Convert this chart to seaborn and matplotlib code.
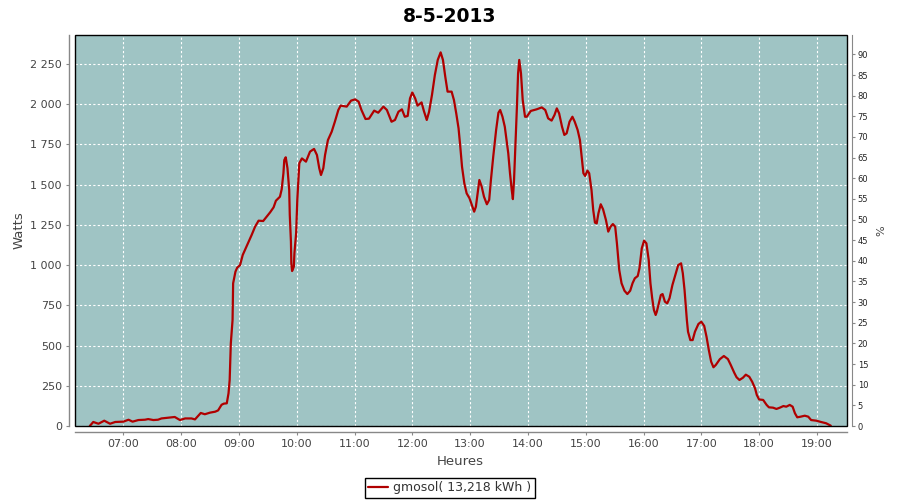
import matplotlib
matplotlib.use("Agg")
import matplotlib.pyplot as plt
from matplotlib.ticker import FuncFormatter, FixedLocator
from matplotlib.patches import Rectangle
import seaborn as sns
import pandas as pd

# ---- data (time in decimal hours, power in W) ----
hours = [6.42, 6.48, 6.57, 6.67, 6.77, 6.86, 7.00, 7.09, 7.16, 7.26, 7.375, 7.43, 7.52, 7.60, 7.66,
         7.89, 7.98, 8.07, 8.18, 8.24, 8.34, 8.41, 8.50, 8.59, 8.64, 8.70, 8.74, 8.79, 8.82, 8.84,
         8.86, 8.89, 8.90, 8.94, 8.97, 9.02, 9.066, 9.13, 9.22, 9.28, 9.34, 9.42, 9.48, 9.54, 9.60,
         9.64, 9.71, 9.74, 9.77, 9.785, 9.81, 9.84, 9.87, 9.88, 9.90, 9.907, 9.92, 9.95, 9.96, 9.99,
         10.01, 10.03, 10.045, 10.09, 10.16, 10.23, 10.30, 10.35, 10.39, 10.42, 10.46, 10.49, 10.54,
         10.605, 10.66, 10.72, 10.76, 10.865, 10.94, 11.01, 11.07, 11.12, 11.19, 11.25, 11.34, 11.41,
         11.50, 11.56, 11.64, 11.70, 11.76, 11.82, 11.87, 11.92, 11.96, 12.00, 12.05, 12.09, 12.16,
         12.20, 12.25, 12.29, 12.34, 12.39, 12.44, 12.49, 12.53, 12.57, 12.61, 12.68, 12.72, 12.76,
         12.80, 12.83, 12.86, 12.90, 12.94, 12.99, 13.03, 13.07, 13.10, 13.13, 13.16, 13.20, 13.24,
         13.29, 13.33, 13.36, 13.40, 13.45, 13.49, 13.52, 13.56, 13.60, 13.63, 13.66, 13.69, 13.72,
         13.74, 13.76, 13.79, 13.81, 13.83, 13.85, 13.88, 13.91, 13.95, 13.98, 14.05, 14.15, 14.24,
         14.30, 14.35, 14.41, 14.46, 14.50, 14.54, 14.59, 14.63, 14.67, 14.72, 14.77, 14.81, 14.86,
         14.90, 14.93, 14.96, 14.99, 15.03, 15.06, 15.10, 15.13, 15.16, 15.19, 15.22, 15.26, 15.30,
         15.35, 15.39, 15.43, 15.47, 15.51, 15.54, 15.58, 15.62, 15.67, 15.72, 15.77, 15.81, 15.85,
         15.90, 15.93, 15.97, 16.01, 16.05, 16.09, 16.12, 16.15, 16.18, 16.21, 16.23, 16.30, 16.33,
         16.37, 16.41, 16.45, 16.50, 16.56, 16.60, 16.65, 16.68, 16.71, 16.75, 16.77, 16.81, 16.85,
         16.89, 16.95, 17.00, 17.05, 17.09, 17.13, 17.17, 17.21, 17.25, 17.32, 17.39, 17.46, 17.51,
         17.57, 17.61, 17.66, 17.72, 17.77, 17.83, 17.88, 17.93, 17.96, 18.00, 18.07, 18.13, 18.17,
         18.24, 18.30, 18.36, 18.42, 18.47, 18.53, 18.58, 18.62, 18.66, 18.72, 18.79, 18.85, 18.90,
         18.99, 19.07, 19.16, 19.24]
watts = [0, 25, 14, 33, 14, 25, 27, 39, 27, 37, 39, 43, 37, 39, 47,
         56, 37, 47, 47, 41, 81, 73, 83, 89, 97, 132, 139, 141, 203, 286,
         514, 659, 887, 959, 984, 1000, 1063, 1114, 1187, 1239, 1276, 1274, 1301, 1328, 1359,
         1400, 1425, 1471, 1571, 1653, 1670, 1602, 1467, 1311, 1146, 1011, 963, 990, 1073, 1198,
         1405, 1529, 1633, 1663, 1643, 1705, 1722, 1684, 1602, 1560, 1602, 1684, 1777,
         1829, 1891, 1964, 1991, 1985, 2022, 2030, 2016, 1964, 1908, 1910, 1960, 1947,
         1985, 1964, 1891, 1902, 1953, 1968, 1922, 1927, 2036, 2073, 2036, 1991, 2011,
         1958, 1902, 1953, 2057, 2181, 2275, 2322, 2275, 2171, 2078, 2078, 2026, 1943,
         1850, 1736, 1611, 1508, 1446, 1415, 1373, 1332, 1363, 1446, 1529, 1488, 1425,
         1378, 1405, 1529, 1674, 1840, 1947, 1964, 1922, 1860, 1777, 1695, 1571, 1467,
         1410, 1529, 1798, 1985, 2192, 2275, 2192, 2026, 1922, 1922, 1958, 1968, 1980,
         1964, 1912, 1898, 1933, 1974, 1943, 1860, 1809, 1819, 1891, 1922, 1891, 1840,
         1777, 1674, 1571, 1554, 1587, 1571, 1467, 1342, 1264, 1259, 1322, 1378, 1347,
         1280, 1208, 1239, 1255, 1239, 1135, 970, 887, 841, 820, 841, 887, 918,
         932, 980, 1104, 1152, 1135, 1032, 887, 794, 721, 690, 710, 814, 820,
         773, 762, 794, 876, 949, 1000, 1011, 949, 845, 659, 586, 534, 534,
         586, 634, 648, 622, 555, 472, 400, 365, 379, 415, 435, 416, 379,
         331, 303, 286, 300, 319, 306, 275, 234, 193, 165, 162, 131, 116,
         114, 106, 114, 124, 120, 131, 120, 79, 54, 58, 64, 58, 37,
         33, 25, 17, 2]

title = "8-5-2013"
series_label = "gmosol( 13,218 kWh )"
x_label = "Heures"
y_label = "Watts"
y2_label = "%"
hour_ticks = [7, 8, 9, 10, 11, 12, 13, 14, 15, 16, 17, 18, 19]
watt_ticks = [0, 250, 500, 750, 1000, 1250, 1500, 1750, 2000, 2250]
pct_ticks = list(range(0, 95, 5))

df = pd.DataFrame({"hour": hours, "watts": watts})

sns.set_style("white")
plt.rcParams["font.family"] = ["DejaVu Sans"]

fig = plt.figure(figsize=(9, 5), dpi=100)
ax = fig.add_axes([75 / 900, 1 - 426 / 500, (846.5 - 75) / 900, (426 - 35) / 500])
ax.set_facecolor("#9FC4C4")

line_color = "#B00000"
sns.lineplot(data=df, x="hour", y="watts", ax=ax, color=line_color, linewidth=1.6,
             sort=False, label=series_label, estimator=None)

ax.set_xlim(6.164, 19.512)
ax.set_ylim(0, 2430)

ax.xaxis.set_major_locator(FixedLocator(hour_ticks))
ax.xaxis.set_major_formatter(FuncFormatter(lambda v, p: f"{int(round(v)):02d}:00"))
ax.yaxis.set_major_locator(FixedLocator(watt_ticks))
ax.yaxis.set_major_formatter(FuncFormatter(lambda v, p: f"{v:,.0f}".replace(",", " ")))

ax.grid(True, color="white", linestyle=(0, (2, 2)), linewidth=0.8)
ax.set_axisbelow(True)

axis_gray = "#888888"
for side in ["left", "bottom"]:
    ax.spines[side].set_position(("outward", 4))
    ax.spines[side].set_color(axis_gray)
    ax.spines[side].set_linewidth(1.0)
ax.spines["top"].set_visible(False)
ax.spines["right"].set_visible(False)

# plot outline
ax.add_patch(Rectangle((0, 0), 1, 1, transform=ax.transAxes, fill=False,
                       edgecolor="black", linewidth=1.0, zorder=5, clip_on=False))

ax.tick_params(axis="both", which="major", direction="out", length=2.5, width=0.8,
               color=axis_gray, labelcolor="#444444", labelsize=8, pad=3, left=True, bottom=True)

ax.set_xlabel(x_label, fontsize=9.5, color="#444444", labelpad=4)
ax.set_ylabel(y_label, fontsize=9.5, color="#444444", labelpad=3)

ax2 = ax.twinx()
ax2.set_ylim(0, 94.7)
ax2.yaxis.set_major_locator(FixedLocator(pct_ticks))
for side in ["left", "top", "bottom"]:
    ax2.spines[side].set_visible(False)
ax2.spines["right"].set_position(("outward", 4))
ax2.spines["right"].set_color(axis_gray)
ax2.tick_params(axis="y", direction="out", length=2.5, width=0.8, color=axis_gray,
                labelcolor="#222222", labelsize=6, pad=1.5, right=True)
ax2.set_ylabel(y2_label, fontsize=8, color="#444444", labelpad=6)
ax2.grid(False)

fig.suptitle(title, fontsize=13.5, fontweight="bold", color="black", x=0.5, y=0.985, va="top")

leg = ax.get_legend()
if leg is not None:
    leg.remove()
handles, labels = ax.get_legend_handles_labels()
fig.legend(handles, labels, loc="center", bbox_to_anchor=(0.5, 1 - 488 / 500),
           fontsize=9, frameon=True, fancybox=False, edgecolor="black", framealpha=1,
           borderpad=0.3, handlelength=1.6, handletextpad=0.4, borderaxespad=0,
           labelcolor="#333333")
fig.legends[0].get_frame().set_linewidth(1.0)

fig.savefig("out.png", dpi=100)
